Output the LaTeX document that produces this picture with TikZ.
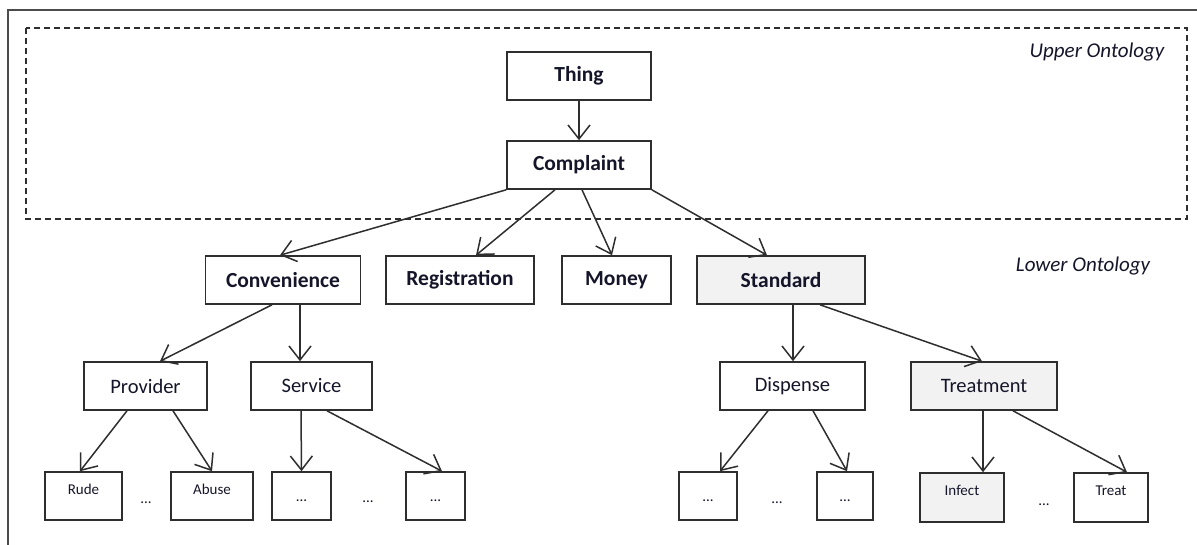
\documentclass[tikz,border=0pt]{standalone}
\usepackage{fontspec}
\setmainfont{Carlito}
\usetikzlibrary{arrows.meta,calc}
\definecolor{edge}{HTML}{2E2E2E}
\definecolor{boxfill}{HTML}{F2F2F2}
\definecolor{txt}{HTML}{15152A}
\tikzset{
  box/.style={draw=edge,line width=1.6pt,rectangle,minimum height=48pt,inner sep=0pt,text=txt},
  upper/.style={box,font=\fontsize{21.5}{24}\selectfont\bfseries},
  mid/.style={box,font=\fontsize{20.5}{24}\selectfont},
  leaftop/.style={box,font=\fontsize{15}{18}\selectfont,text height=10pt,text depth=14pt},
  leafdots/.style={box,font=\fontsize{15}{18}\selectfont,text height=10pt,text depth=0pt},
  shade/.style={fill=boxfill},
  dots/.style={inner sep=0pt,font=\fontsize{15}{18}\selectfont,text=txt},
  arr/.style={draw=edge,line width=1.5pt,-{Straight Barb[length=14pt,width=22pt,line width=1.5pt]}},
  onto/.style={font=\fontsize{21}{24}\selectfont\itshape,text=txt,inner sep=0pt}
}
\begin{document}
\begin{tikzpicture}[x=1pt,y=-1pt]
\useasboundingbox (0,0) rectangle (1197,545);
% outer frame (top and left)
\coordinate (fa) at (8,545);
\coordinate (fb) at (8,10);
\coordinate (fc) at (1197,10);
\draw[draw=black!70,line width=2pt] (fa) -- (fb) -- (fc);
% dashed region
\coordinate (da) at (26,28);
\coordinate (db) at (1187,219);
\draw[draw=edge,line width=1.5pt,dash pattern=on 6pt off 4pt] (da) rectangle (db);
\node[onto] (uo) at (1097,52) {Upper Ontology};
\node[onto] (lo) at (1083,266) {Lower Ontology};
% level 1-2
\node[upper,minimum width=144pt] (thing) at (579,76) {Thing};
\node[upper,minimum width=144pt] (cplt) at (579,165) {Complaint};
\node[upper,minimum width=155pt] (conv) at (283,280) {Convenience};
\node[upper,minimum width=148pt] (reg) at (460,280) {Registration};
\node[upper,minimum width=109pt] (money) at (616.5,280) {Money};
\node[upper,shade,minimum width=168pt] (std) at (781,280) {Standard};
% level 3
\node[mid,minimum width=123pt] (prov) at (145.5,386) {Provider};
\node[mid,minimum width=121pt] (serv) at (311.5,386) {Service};
\node[mid,minimum width=145pt] (disp) at (792.5,386) {Dispense};
\node[mid,shade,minimum width=146pt] (treatm) at (984,386) {Treatment};
% leaves
\node[leaftop,minimum width=77pt] (rude) at (83.5,496) {Rude};
\node[leaftop,minimum width=82pt] (abuse) at (212,496) {Abuse};
\node[leafdots,minimum width=59pt] (la) at (301.5,496) {...};
\node[leafdots,minimum width=59pt] (lb) at (435.5,496) {...};
\node[leafdots,minimum width=58pt] (lc) at (708,496) {...};
\node[leafdots,minimum width=56pt] (ld) at (845,496) {...};
\node[leaftop,shade,minimum width=84pt,minimum height=49pt] (infect) at (962,497.5) {Infect};
\node[leaftop,minimum width=74pt,minimum height=49pt] (treat) at (1111,497.5) {Treat};
\node[dots,anchor=base] (da1) at (146,503) {...};
\node[dots,anchor=base] (da2) at (368,502) {...};
\node[dots,anchor=base] (da3) at (777,503) {...};
\node[dots,anchor=base] (da4) at (1044,505) {...};
% connectors
\draw[arr] (thing.south) -- (cplt.north);
\draw[arr] (cplt.south west) -- ([xshift=-3pt]conv.north);
\draw[arr] ([xshift=-24pt]cplt.south) -- ([xshift=16pt]reg.north);
\draw[arr] ([xshift=3pt]cplt.south) -- ([xshift=-4.5pt]money.north);
\draw[arr] (cplt.south east) -- ([xshift=-14pt]std.north);
\draw[arr] ([xshift=-11pt]conv.south) -- ([xshift=14.5pt]prov.north);
\draw[arr] ([xshift=17pt]conv.south) -- ([xshift=-11.5pt]serv.north);
\draw[arr] ([xshift=12pt]std.south) -- ([xshift=0.5pt]disp.north);
\draw[arr] ([xshift=39pt]std.south) -- ([xshift=-2pt]treatm.north);
\draw[arr] ([xshift=-18.5pt]prov.south) -- ([xshift=-3.5pt]rude.north);
\draw[arr] ([xshift=27.5pt]prov.south) -- ([xshift=0pt]abuse.north);
\draw[arr] ([xshift=-10.5pt]serv.south) -- ([xshift=0pt]la.north);
\draw[arr] ([xshift=15.5pt]serv.south) -- ([xshift=6.5pt]lb.north);
\draw[arr] ([xshift=-24.5pt]disp.south) -- ([xshift=12pt]lc.north);
\draw[arr] ([xshift=20.5pt]disp.south) -- ([xshift=2pt]ld.north);
\draw[arr] ([xshift=-1pt]treatm.south) -- ([xshift=21pt]infect.north);
\draw[arr] ([xshift=29pt]treatm.south) -- ([xshift=16pt]treat.north);
\end{tikzpicture}
\end{document}
